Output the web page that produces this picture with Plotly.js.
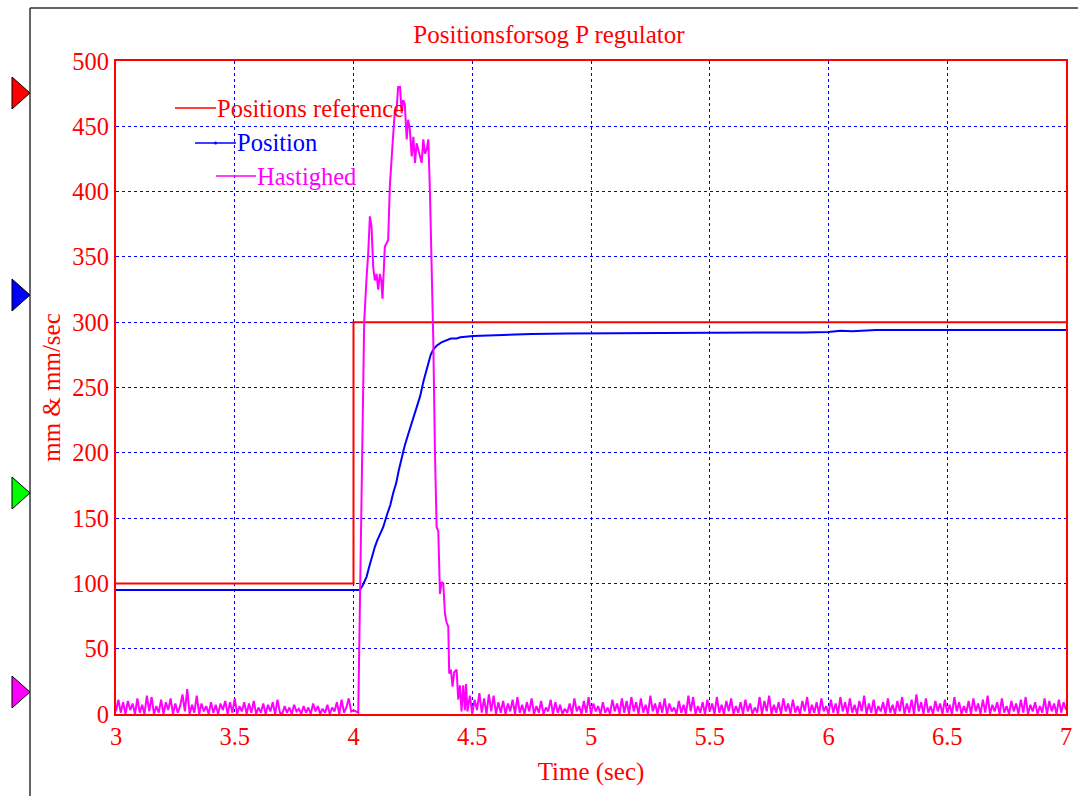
<!DOCTYPE html>
<html>
<head>
<meta charset="utf-8">
<script src="https://cdn.plot.ly/plotly-3.0.1.min.js"></script>
<style>
  html, body { margin: 0; padding: 0; background: #ffffff; }
  #chart { width: 1083px; height: 796px; }
</style>
</head>
<body>
<div id="chart"></div>
<script>
// ---------------- data ----------------
const chartTitle = "Positionsforsog P regulator";
const xTitle = "Time (sec)";
const yTitle = "mm & mm/sec";
const seriesNames = ["Positions reference", "Position", "Hastighed"];
const xTickVals = [3, 3.5, 4, 4.5, 5, 5.5, 6, 6.5, 7];
const xTickText = ["3", "3.5", "4", "4.5", "5", "5.5", "6", "6.5", "7"];
const yTickVals = [0, 50, 100, 150, 200, 250, 300, 350, 400, 450, 500];

// Positions reference (step)
const refTime = [3.0, 4.0, 4.0, 7.0];
const refValue = [100, 100, 300, 300];

// Position
const posTime = [3.0, 3.6, 4.027, 4.04, 4.055, 4.065, 4.076, 4.09, 4.1, 4.125, 4.14, 4.155, 4.167,
  4.18, 4.19, 4.203, 4.215, 4.23, 4.245, 4.26, 4.28, 4.295, 4.305, 4.315, 4.325, 4.336, 4.35,
  4.37, 4.392, 4.41, 4.434, 4.45, 4.504, 4.6, 4.75, 4.9, 5.0, 5.5, 5.9, 6.0, 6.05, 6.1, 6.2, 6.5, 7.0];
const posValue = [95, 95, 95, 99, 105, 112, 120, 128, 133, 143, 152, 160, 169,
  177, 186, 197, 205, 214, 223, 232, 243, 255, 262, 268.5, 275, 279, 282,
  284.5, 286, 287.5, 287.5, 288.5, 289.4, 290, 291, 291.3, 291.5, 292, 292.2, 292.5, 293.5, 293, 294, 294, 294];

// Hastighed: noise before the step, sampled every 0.01 s from 3.00 s
const hastBeforeStart = 3.0;
const hastBefore = [
  2, 11, 1, 9, 0, 10, 3, 8, 0, 12,
  1, 7, 0, 14, 2, 13, 0, 6, 1, 11,
  0, 9, 3, 12, 0, 8, 1, 6, 15, 2,
  19, 0, 7, 1, 14, 0, 8, 2, 6, 0,
  9, 1, 7, 0, 8, 3, 10, 0, 9, 1,
  12, 0, 6, 2, 9, 0, 8, 1, 10, 0,
  5, 1, 8, 0, 7, 2, 9, 0, 11, 1,
  0, 6, 1, 5, 0, 7, 2, 4, 0, 6,
  1, 5, 0, 8, 2, 6, 0, 4, 1, 7,
  0, 5, 2, 9, 0, 11, 1, 5, 12, 2,
  3, 2
];
// Hastighed: transient
const hastMidTime = [4.02, 4.03, 4.045, 4.055, 4.062, 4.069, 4.076, 4.083, 4.09, 4.097, 4.104, 4.111,
  4.117, 4.122, 4.132, 4.146, 4.153, 4.16, 4.167, 4.174, 4.181, 4.188, 4.196, 4.203, 4.209, 4.216,
  4.224, 4.23, 4.237, 4.245, 4.252, 4.259, 4.266, 4.273, 4.28, 4.287, 4.294, 4.301, 4.308, 4.315,
  4.322, 4.329, 4.336, 4.343, 4.35, 4.357, 4.364, 4.371, 4.378, 4.385, 4.392, 4.399, 4.403, 4.41,
  4.417, 4.424, 4.434, 4.441, 4.448, 4.455, 4.462, 4.469, 4.474];
const hastMidValue = [1, 120, 300, 334, 353, 381, 373, 342, 332, 337, 325, 337,
  332, 318, 358, 363, 404, 424, 440, 462, 462, 480, 480, 460, 470, 467,
  440, 455, 448, 427, 442, 422, 437, 432, 425, 422, 440, 429, 432, 440,
  399, 348, 286, 200, 143, 140, 92, 101, 100, 77, 70, 67, 31, 34,
  21, 32, 34, 11, 22, 2, 22, 3, 23];
// Hastighed: noise after the transient, sampled every 0.01 s from 4.48 s
const hastAfterStart = 4.48;
const hastAfter = [
  2, 14, 0, 11, 3, 16, 1, 12, 0, 15,
  2, 14, 0, 9, 1, 10, 0, 8, 2, 11,
  0, 13, 1, 7, 0, 9, 2, 12, 0, 6,
  1, 10, 0, 5, 2, 11, 0, 9, 1, 7,
  0, 4, 1, 8, 0, 12, 2, 6, 0, 10,
  1, 13, 0, 8, 2, 6, 0, 9, 1, 5,
  0, 11, 2, 8, 0, 12, 1, 10, 0, 13,
  2, 9, 0, 12, 1, 7, 0, 14, 2, 8,
  0, 9, 1, 12, 0, 8, 2, 5, 0, 10,
  1, 7, 0, 14, 2, 13, 0, 6, 1, 9,
  0, 11, 2, 8, 0, 13, 1, 7, 0, 10,
  2, 12, 0, 6, 1, 9, 0, 11, 2, 8,
  0, 5, 1, 13, 0, 10, 2, 14, 0, 7,
  1, 9, 0, 12, 2, 8, 0, 11, 1, 6,
  0, 10, 2, 13, 0, 7, 1, 9, 0, 12,
  2, 6, 0, 11, 1, 8, 0, 13, 2, 9,
  0, 12, 1, 7, 0, 10, 2, 14, 0, 8,
  1, 11, 0, 6, 2, 9, 0, 12, 1, 7,
  0, 10, 2, 13, 0, 8, 1, 11, 0, 15,
  2, 9, 0, 12, 1, 6, 0, 10, 2, 8,
  0, 11, 1, 7, 0, 13, 2, 9, 0, 6,
  1, 10, 0, 12, 2, 8, 0, 11, 1, 14,
  0, 7, 2, 9, 0, 12, 1, 6, 0, 10,
  2, 8, 0, 11, 1, 13, 0, 7, 2, 9,
  0, 6, 1, 12, 0, 10, 2, 8, 0, 11,
  1, 9, 3
];
const sampleStep = 0.01;

// ---------------- build traces ----------------
const sampleTimes = (start, n) => Array.from({length: n}, (_, i) => +(start + i * sampleStep).toFixed(3));
const hastTime = sampleTimes(hastBeforeStart, hastBefore.length)
  .concat(hastMidTime, sampleTimes(hastAfterStart, hastAfter.length));
const hastValue = hastBefore.concat(hastMidValue, hastAfter);

const RED = "#ff0000", BLUE = "#0000ff", MAG = "#ff00ff";
const FONT = "Liberation Serif, Times New Roman, serif";

const traces = [
  {x: refTime, y: refValue, name: seriesNames[0], mode: "lines", line: {color: RED, width: 2}, showlegend: false},
  {x: posTime, y: posValue, name: seriesNames[1], mode: "lines", line: {color: BLUE, width: 2}, showlegend: false},
  {x: hastTime, y: hastValue, name: seriesNames[2], mode: "lines", line: {color: MAG, width: 2}, showlegend: false}
];

// ---------------- layout ----------------
const W = 1083, H = 796, L = 116, R = 17, T = 61, B = 82;
const pw = W - L - R, ph = H - T - B;
const px2x = p => (p - L) / pw;     // pixel -> paper x
const py2y = p => (H - B - p) / ph; // pixel -> paper y

const shapes = [];
// outer frame (left and top)
shapes.push({type: "line", xref: "paper", yref: "paper", x0: px2x(30), x1: px2x(30), y0: py2y(8), y1: py2y(800), line: {color: "#333333", width: 1.5}});
shapes.push({type: "line", xref: "paper", yref: "paper", x0: px2x(30), x1: px2x(1078), y0: py2y(8), y1: py2y(8), line: {color: "#333333", width: 1.5}});
// channel markers on the left
const markerColors = [RED, BLUE, "#00ff00", MAG];
const markerY = [93, 295, 493, 692];
markerColors.forEach((c, i) => {
  const yc = markerY[i];
  const path = `M ${px2x(12)} ${py2y(yc - 16)} L ${px2x(30)} ${py2y(yc)} L ${px2x(12)} ${py2y(yc + 16)} Z`;
  shapes.push({type: "path", xref: "paper", yref: "paper", path: path, fillcolor: c, line: {color: "#000000", width: 1}});
});
// legend swatches
const legendRows = [
  {x0: 175, x1: 216, y: 108, color: RED},
  {x0: 195, x1: 236, y: 143, color: BLUE},
  {x0: 216, x1: 256, y: 176, color: MAG}
];
const annotations = [];
legendRows.forEach((r, i) => {
  shapes.push({type: "line", xref: "paper", yref: "paper", x0: px2x(r.x0), x1: px2x(r.x1), y0: py2y(r.y), y1: py2y(r.y), line: {color: r.color, width: 1.5}});
  annotations.push({xref: "paper", yref: "paper", x: px2x(r.x1 - 1), y: py2y(r.y), xanchor: "left", yanchor: "middle",
    text: seriesNames[i], showarrow: false, font: {family: FONT, size: 24.5, color: r.color}});
});
// small dot on the Position swatch
shapes.push({type: "circle", xref: "paper", yref: "paper", x0: px2x(214), x1: px2x(217), y0: py2y(141.5), y1: py2y(144.5), fillcolor: BLUE, line: {color: BLUE, width: 0}});

const layout = {
  width: W, height: H,
  margin: {l: L, r: R, t: T, b: B, pad: 0},
  paper_bgcolor: "#ffffff", plot_bgcolor: "#ffffff",
  font: {family: FONT, color: RED, size: 24},
  title: {text: chartTitle, x: 549 / W, xref: "container", xanchor: "center", y: 1 - 34 / H, yref: "container", yanchor: "middle",
    font: {family: FONT, size: 25, color: RED}},
  xaxis: {
    range: [3, 7], tickvals: xTickVals, ticktext: xTickText, ticks: "",
    showgrid: true, gridcolor: BLUE, griddash: "dot", gridwidth: 1,
    showline: true, linecolor: RED, linewidth: 2, mirror: true, zeroline: false,
    tickfont: {family: FONT, size: 24.5, color: RED},
    title: {text: xTitle, font: {family: FONT, size: 25, color: RED}, standoff: 13},
    automargin: false, fixedrange: true
  },
  yaxis: {
    range: [0, 500], tickvals: yTickVals, ticks: "",
    showgrid: true, gridcolor: BLUE, griddash: "dot", gridwidth: 1,
    showline: true, linecolor: RED, linewidth: 2, mirror: true, zeroline: false,
    tickfont: {family: FONT, size: 24.5, color: RED},
    title: {text: yTitle, font: {family: FONT, size: 25, color: RED}, standoff: 5},
    automargin: false, fixedrange: true
  },
  shapes: shapes,
  annotations: annotations,
  showlegend: false
};

Plotly.newPlot("chart", traces, layout, {displayModeBar: false, staticPlot: true});
</script>
</body>
</html>
